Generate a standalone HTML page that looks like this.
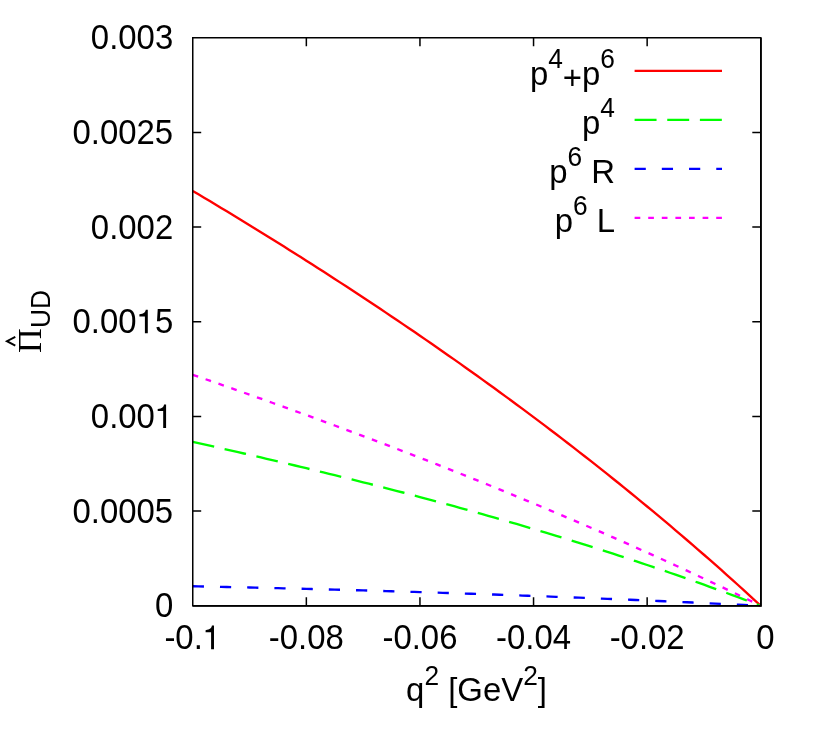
<!DOCTYPE html>
<html><head><meta charset="utf-8"><title>plot</title>
<style>
html,body{margin:0;padding:0;background:#fff;}
svg{display:block;will-change:transform;}
text{font-family:"Liberation Sans",sans-serif;fill:#000;font-kerning:none;white-space:pre;}
.sy{font-family:"Liberation Serif",serif;}
</style></head><body>
<svg width="822" height="743" viewBox="0 0 822 743">
<rect x="0" y="0" width="822" height="743" fill="#ffffff"/>
<g fill="none" stroke-width="2.35" stroke-linecap="butt" stroke-linejoin="round">
<path d="M192.75,190.90 L198.43,194.28 L204.11,197.67 L209.79,201.08 L215.47,204.49 L221.15,207.92 L226.83,211.35 L232.51,214.80 L238.19,218.26 L243.87,221.73 L249.55,225.22 L255.23,228.71 L260.91,232.22 L266.59,235.74 L272.27,239.27 L277.95,242.81 L283.63,246.37 L289.31,249.94 L294.99,253.52 L300.67,257.11 L306.35,260.72 L312.03,264.33 L317.71,267.97 L323.39,271.61 L329.07,275.27 L334.75,278.94 L340.43,282.63 L346.11,286.32 L351.79,290.04 L357.47,293.76 L363.15,297.50 L368.83,301.26 L374.51,305.03 L380.19,308.81 L385.87,312.61 L391.55,316.42 L397.23,320.25 L402.91,324.10 L408.59,327.96 L414.27,331.83 L419.95,335.72 L425.63,339.63 L431.31,343.55 L436.99,347.49 L442.67,351.45 L448.35,355.42 L454.03,359.41 L459.71,363.41 L465.39,367.43 L471.07,371.47 L476.75,375.53 L482.43,379.61 L488.11,383.70 L493.79,387.81 L499.47,391.94 L505.15,396.09 L510.83,400.26 L516.51,404.44 L522.19,408.65 L527.87,412.87 L533.55,417.12 L539.23,421.38 L544.91,425.67 L550.59,429.97 L556.27,434.30 L561.95,438.64 L567.63,443.01 L573.31,447.40 L578.99,451.81 L584.67,456.24 L590.35,460.69 L596.03,465.17 L601.71,469.66 L607.39,474.18 L613.07,478.73 L618.75,483.29 L624.43,487.88 L630.11,492.49 L635.79,497.13 L641.47,501.79 L647.15,506.48 L652.83,511.19 L658.51,515.92 L664.19,520.68 L669.87,525.47 L675.55,530.28 L681.23,535.12 L686.91,539.99 L692.59,544.88 L698.27,549.79 L703.95,554.74 L709.63,559.71 L715.31,564.71 L720.99,569.74 L726.67,574.80 L732.35,579.88 L738.03,585.00 L743.71,590.14 L749.39,595.31 L755.07,600.52 L760.75,605.75" stroke="#ff0000"/>
<path d="M192.75,441.88 L198.43,443.15 L204.11,444.43 L209.79,445.71 L215.47,446.99 L221.15,448.28 L226.83,449.58 L232.51,450.87 L238.19,452.18 L243.87,453.49 L249.55,454.80 L255.23,456.12 L260.91,457.44 L266.59,458.77 L272.27,460.11 L277.95,461.45 L283.63,462.79 L289.31,464.14 L294.99,465.50 L300.67,466.86 L306.35,468.23 L312.03,469.61 L317.71,470.99 L323.39,472.37 L329.07,473.77 L334.75,475.17 L340.43,476.58 L346.11,477.99 L351.79,479.41 L357.47,480.84 L363.15,482.27 L368.83,483.71 L374.51,485.16 L380.19,486.62 L385.87,488.08 L391.55,489.55 L397.23,491.03 L402.91,492.51 L408.59,494.01 L414.27,495.51 L419.95,497.02 L425.63,498.53 L431.31,500.06 L436.99,501.59 L442.67,503.13 L448.35,504.68 L454.03,506.24 L459.71,507.81 L465.39,509.38 L471.07,510.97 L476.75,512.56 L482.43,514.17 L488.11,515.78 L493.79,517.40 L499.47,519.03 L505.15,520.67 L510.83,522.32 L516.51,523.98 L522.19,525.64 L527.87,527.32 L533.55,529.01 L539.23,530.71 L544.91,532.42 L550.59,534.14 L556.27,535.86 L561.95,537.60 L567.63,539.35 L573.31,541.11 L578.99,542.88 L584.67,544.66 L590.35,546.46 L596.03,548.26 L601.71,550.07 L607.39,551.90 L613.07,553.74 L618.75,555.58 L624.43,557.44 L630.11,559.31 L635.79,561.20 L641.47,563.09 L647.15,565.00 L652.83,566.91 L658.51,568.84 L664.19,570.79 L669.87,572.74 L675.55,574.71 L681.23,576.69 L686.91,578.68 L692.59,580.68 L698.27,582.70 L703.95,584.73 L709.63,586.77 L715.31,588.83 L720.99,590.90 L726.67,592.98 L732.35,595.07 L738.03,597.18 L743.71,599.30 L749.39,601.44 L755.07,603.59 L760.75,605.75" stroke="#00ff00" stroke-dasharray="21.95 10.69"/>
<path d="M192.75,586.27 L198.43,586.39 L204.11,586.51 L209.79,586.63 L215.47,586.75 L221.15,586.87 L226.83,586.99 L232.51,587.12 L238.19,587.25 L243.87,587.37 L249.55,587.50 L255.23,587.64 L260.91,587.77 L266.59,587.90 L272.27,588.04 L277.95,588.18 L283.63,588.31 L289.31,588.46 L294.99,588.60 L300.67,588.74 L306.35,588.89 L312.03,589.03 L317.71,589.18 L323.39,589.33 L329.07,589.48 L334.75,589.63 L340.43,589.79 L346.11,589.94 L351.79,590.10 L357.47,590.26 L363.15,590.42 L368.83,590.58 L374.51,590.74 L380.19,590.91 L385.87,591.07 L391.55,591.24 L397.23,591.41 L402.91,591.58 L408.59,591.76 L414.27,591.93 L419.95,592.11 L425.63,592.28 L431.31,592.46 L436.99,592.64 L442.67,592.83 L448.35,593.01 L454.03,593.20 L459.71,593.38 L465.39,593.57 L471.07,593.76 L476.75,593.95 L482.43,594.15 L488.11,594.34 L493.79,594.54 L499.47,594.74 L505.15,594.94 L510.83,595.14 L516.51,595.35 L522.19,595.55 L527.87,595.76 L533.55,595.97 L539.23,596.18 L544.91,596.39 L550.59,596.60 L556.27,596.82 L561.95,597.04 L567.63,597.26 L573.31,597.48 L578.99,597.70 L584.67,597.92 L590.35,598.15 L596.03,598.38 L601.71,598.61 L607.39,598.84 L613.07,599.07 L618.75,599.30 L624.43,599.54 L630.11,599.78 L635.79,600.02 L641.47,600.26 L647.15,600.50 L652.83,600.75 L658.51,601.00 L664.19,601.25 L669.87,601.50 L675.55,601.75 L681.23,602.00 L686.91,602.26 L692.59,602.52 L698.27,602.78 L703.95,603.04 L709.63,603.30 L715.31,603.56 L720.99,603.83 L726.67,604.10 L732.35,604.37 L738.03,604.64 L743.71,604.92 L749.39,605.19 L755.07,605.47 L760.75,605.75" stroke="#0000ff" stroke-dasharray="11.2 16.02"/>
<path d="M192.75,374.81 L198.43,376.77 L204.11,378.74 L209.79,380.72 L215.47,382.69 L221.15,384.68 L226.83,386.66 L232.51,388.66 L238.19,390.66 L243.87,392.66 L249.55,394.67 L255.23,396.68 L260.91,398.70 L266.59,400.73 L272.27,402.76 L277.95,404.80 L283.63,406.84 L289.31,408.89 L294.99,410.94 L300.67,413.00 L306.35,415.07 L312.03,417.14 L317.71,419.22 L323.39,421.31 L329.07,423.40 L334.75,425.49 L340.43,427.60 L346.11,429.71 L351.79,431.83 L357.47,433.95 L363.15,436.08 L368.83,438.22 L374.51,440.36 L380.19,442.51 L385.87,444.67 L391.55,446.83 L397.23,449.00 L402.91,451.18 L408.59,453.37 L414.27,455.56 L419.95,457.76 L425.63,459.97 L431.31,462.18 L436.99,464.41 L442.67,466.64 L448.35,468.88 L454.03,471.12 L459.71,473.38 L465.39,475.64 L471.07,477.91 L476.75,480.18 L482.43,482.47 L488.11,484.76 L493.79,487.07 L499.47,489.38 L505.15,491.69 L510.83,494.02 L516.51,496.36 L522.19,498.70 L527.87,501.05 L533.55,503.42 L539.23,505.79 L544.91,508.16 L550.59,510.55 L556.27,512.95 L561.95,515.35 L567.63,517.77 L573.31,520.19 L578.99,522.63 L584.67,525.07 L590.35,527.52 L596.03,529.98 L601.71,532.45 L607.39,534.93 L613.07,537.42 L618.75,539.92 L624.43,542.43 L630.11,544.95 L635.79,547.48 L641.47,550.02 L647.15,552.57 L652.83,555.13 L658.51,557.69 L664.19,560.27 L669.87,562.86 L675.55,565.46 L681.23,568.07 L686.91,570.69 L692.59,573.33 L698.27,575.97 L703.95,578.62 L709.63,581.28 L715.31,583.96 L720.99,586.64 L726.67,589.34 L732.35,592.05 L738.03,594.77 L743.71,597.49 L749.39,600.24 L755.07,602.99 L760.75,605.75" stroke="#ff00ff" stroke-dasharray="5.7 7.9"/>
<path d="M634.6,70.8 H722.0" stroke="#ff0000"/>
<path d="M634.6,119.8 H722.0" stroke="#00ff00" stroke-dasharray="21.95 10.69"/>
<path d="M634.6,168.8 H722.0" stroke="#0000ff" stroke-dasharray="11.2 16.02"/>
<path d="M634.6,217.8 H722.0" stroke="#ff00ff" stroke-dasharray="5.7 7.9"/>
</g>
<g fill="none" stroke="#000" stroke-width="1.5" stroke-linecap="butt" stroke-linejoin="miter">
<path d="M192.75,511.08 h8.45 M760.75,511.08 h-8.45 M192.75,416.42 h8.45 M760.75,416.42 h-8.45 M192.75,321.75 h8.45 M760.75,321.75 h-8.45 M192.75,227.08 h8.45 M760.75,227.08 h-8.45 M192.75,132.42 h8.45 M760.75,132.42 h-8.45 M306.35,605.75 v-8.45 M306.35,37.75 v8.45 M419.95,605.75 v-8.45 M419.95,37.75 v8.45 M533.55,605.75 v-8.45 M533.55,37.75 v8.45 M647.15,605.75 v-8.45 M647.15,37.75 v8.45"/>
<rect x="192.75" y="37.75" width="568.00" height="568.00"/>
<path d="M760.9,37.75 V606.65 M192.75,605.9 H761.65" stroke-width="1.8"/>
</g>
<text transform="translate(154.90,617.35) scale(1,1.05)" font-size="32.90">0</text>
<text transform="translate(72.57,522.68) scale(1,1.05)" font-size="32.90">0.0005</text>
<text transform="translate(90.87,428.02) scale(1,1.05)" font-size="32.90">0.00</text>
<path transform="translate(154.90,428.02) scale(0.03290,-0.03356)" d="M252,0 H340 V703 H278 C262,625 225,585 85,568 V505 H252 Z" fill="#000"/>
<text transform="translate(72.57,333.35) scale(1,1.05)" font-size="32.90">0.00</text>
<path transform="translate(136.61,333.35) scale(0.03290,-0.03356)" d="M252,0 H340 V703 H278 C262,625 225,585 85,568 V505 H252 Z" fill="#000"/>
<text transform="translate(154.90,333.35) scale(1,1.05)" font-size="32.90">5</text>
<text transform="translate(90.87,238.68) scale(1,1.05)" font-size="32.90">0.002</text>
<text transform="translate(72.57,144.02) scale(1,1.05)" font-size="32.90">0.0025</text>
<text transform="translate(90.87,49.35) scale(1,1.05)" font-size="32.90">0.003</text>
<text transform="translate(164.40,649.20) scale(1,1.05)" font-size="32.90">-0.</text>
<path transform="translate(202.80,649.20) scale(0.03290,-0.03356)" d="M252,0 H340 V703 H278 C262,625 225,585 85,568 V505 H252 Z" fill="#000"/>
<text transform="translate(268.86,649.20) scale(1,1.05)" font-size="32.90">-0.08</text>
<text transform="translate(382.46,649.20) scale(1,1.05)" font-size="32.90">-0.06</text>
<text transform="translate(496.06,649.20) scale(1,1.05)" font-size="32.90">-0.04</text>
<text transform="translate(609.66,649.20) scale(1,1.05)" font-size="32.90">-0.02</text>
<text transform="translate(747.03,649.20) scale(1,1.05)" font-size="32.90"> 0</text>
<text transform="translate(406.09,700.70) scale(1,1.0)" font-size="32.90">q</text>
<text transform="translate(424.38,685.10) scale(1,1.05)" font-size="26.32">2</text>
<text transform="translate(439.02,700.70) scale(1,1.0)" font-size="32.90"> [GeV</text>
<text transform="translate(523.14,685.10) scale(1,1.05)" font-size="26.32">2</text>
<text transform="translate(537.77,700.70) scale(1,1.0)" font-size="32.90">]</text>
<text transform="translate(529.92,85.10) scale(1,1.0)" font-size="32.90">p</text>
<text transform="translate(548.21,68.10) scale(1,1.05)" font-size="26.32">4</text>
<text transform="translate(562.85,88.90) scale(1,1)" font-size="32.90">+</text>
<text transform="translate(582.06,85.10) scale(1,1.0)" font-size="32.90">p</text>
<text transform="translate(600.36,68.10) scale(1,1.05)" font-size="26.32">6</text>
<text transform="translate(582.06,134.10) scale(1,1.0)" font-size="32.90">p</text>
<text transform="translate(600.36,117.10) scale(1,1.05)" font-size="26.32">4</text>
<text transform="translate(549.16,183.10) scale(1,1.0)" font-size="32.90">p</text>
<text transform="translate(567.46,166.10) scale(1,1.05)" font-size="26.32">6</text>
<text transform="translate(582.10,183.10) scale(1,1.0)" font-size="32.90"> R</text>
<text transform="translate(554.63,232.10) scale(1,1.0)" font-size="32.90">p</text>
<text transform="translate(572.92,215.10) scale(1,1.05)" font-size="26.32">6</text>
<text transform="translate(587.56,232.10) scale(1,1.0)" font-size="32.90"> L</text>
<g transform="translate(40.9,352.9) rotate(-90)"><text x="0" y="0" font-size="34.22" class="sy">&#928;</text><text transform="translate(24.8,8.8) scale(1,1.07)" font-size="26.32">UD</text></g>
<path d="M15.3,336.8 L6.9,341.2 L15.3,345.6" fill="none" stroke="#000" stroke-width="1.9" stroke-linejoin="miter" stroke-linecap="butt"/>
</svg></body></html>
